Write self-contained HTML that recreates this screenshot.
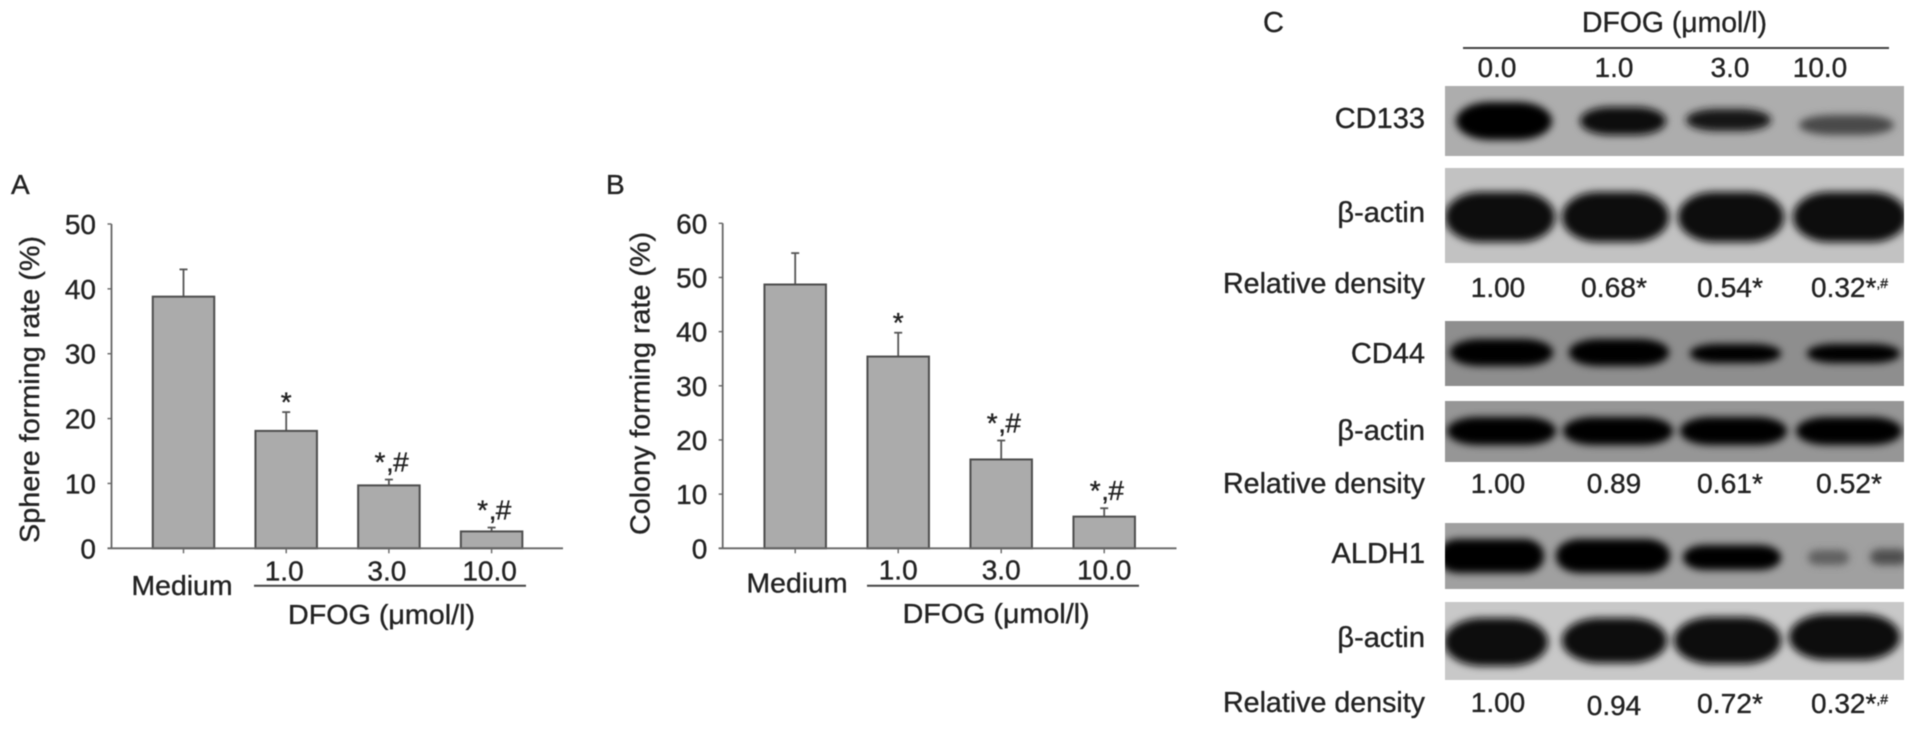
<!DOCTYPE html>
<html lang="en">
<head>
<meta charset="utf-8">
<title>DFOG sphere and colony forming rates with western blots</title>
<style>
html,body{margin:0;padding:0;background:#fff;width:1913px;height:731px;overflow:hidden}
svg{display:block}
text{font-family:"Liberation Sans",sans-serif;fill:#222;stroke:#222;stroke-width:.35px;font-size:28px}
#page-group{filter:blur(0.6px)}
#panel-c text{font-size:29px}
#panel-c text.num{font-size:28px}
</style>
</head>
<body>
<svg id="figure" xmlns="http://www.w3.org/2000/svg" width="1913" height="731" viewBox="0 0 1913 731">
<defs>
<filter id="soft" x="-20%" y="-60%" width="140%" height="220%"><feGaussianBlur stdDeviation="4"/></filter>
<clipPath id="clip-cd133"><rect x="1445" y="86" width="459" height="70"/></clipPath>
<clipPath id="clip-actin1"><rect x="1445" y="168" width="459" height="95"/></clipPath>
<clipPath id="clip-cd44"><rect x="1445" y="321" width="459" height="65"/></clipPath>
<clipPath id="clip-actin2"><rect x="1445" y="401" width="459" height="61"/></clipPath>
<clipPath id="clip-aldh1"><rect x="1445" y="523" width="459" height="66"/></clipPath>
<clipPath id="clip-actin3"><rect x="1445" y="602" width="459" height="78"/></clipPath>
</defs>
<g id="page-group">
<g id="panel-a"></g>
<g id="panel-b"></g>

<g id="panel-c">
<text x="1263" y="32">C</text>
<text x="1582" y="32" textLength="185" lengthAdjust="spacingAndGlyphs">DFOG (μmol/l)</text>
<line x1="1463" y1="48" x2="1889" y2="48" stroke="#444" stroke-width="2"/>
<text class="num" x="1497" y="77" text-anchor="middle">0.0</text>
<text class="num" x="1614" y="77" text-anchor="middle">1.0</text>
<text class="num" x="1730" y="77" text-anchor="middle">3.0</text>
<text class="num" x="1820" y="77" text-anchor="middle">10.0</text>

<g clip-path="url(#clip-cd133)">
<rect x="1445" y="86" width="459" height="70" fill="#adadad"/>
<g filter="url(#soft)">
<rect x="1456" y="102" width="96" height="38" rx="34" ry="19" fill="#000"/>
<rect x="1580" y="107" width="86" height="28" rx="30" ry="14" fill="#0c0c0c"/>
<rect x="1686" y="109" width="85" height="22" rx="30" ry="11" fill="#181818"/>
<rect x="1799" y="115" width="95" height="20" rx="34" ry="10" fill="#4a4a4a"/>
</g></g>
<g clip-path="url(#clip-actin1)">
<rect x="1445" y="168" width="459" height="95" fill="#c2c2c2"/>
<g filter="url(#soft)" fill="#0d0d0d">
<rect x="1445" y="192" width="110" height="50" rx="36" ry="25"/>
<rect x="1562" y="192" width="107" height="50" rx="36" ry="25"/>
<rect x="1678" y="192" width="106" height="50" rx="36" ry="25"/>
<rect x="1793" y="192" width="114" height="50" rx="36" ry="25"/>
</g></g>
<g clip-path="url(#clip-cd44)">
<rect x="1445" y="321" width="459" height="65" fill="#8e8e8e"/>
<g filter="url(#soft)" fill="#050505">
<rect x="1450" y="339" width="103" height="27" rx="30" ry="13"/>
<rect x="1569" y="339" width="100" height="27" rx="30" ry="13"/>
<rect x="1690" y="344" width="91" height="19" rx="28" ry="9"/>
<rect x="1807" y="344" width="93" height="19" rx="28" ry="9"/>
</g></g>
<g clip-path="url(#clip-actin2)">
<rect x="1445" y="401" width="459" height="61" fill="#969696"/>
<g filter="url(#soft)" fill="#000">
<rect x="1447" y="417" width="109" height="28" rx="30" ry="14"/>
<rect x="1563" y="417" width="110" height="28" rx="30" ry="14"/>
<rect x="1680" y="417" width="107" height="28" rx="30" ry="14"/>
<rect x="1796" y="417" width="106" height="28" rx="30" ry="14"/>
</g></g>
<g clip-path="url(#clip-aldh1)">
<rect x="1445" y="523" width="459" height="66" fill="#a0a0a0"/>
<g filter="url(#soft)">
<rect x="1438" y="539" width="106" height="34" rx="20" ry="16" fill="#040404"/>
<rect x="1556" y="539" width="114" height="34" rx="24" ry="16" fill="#040404"/>
<rect x="1683" y="545" width="98" height="25" rx="22" ry="12" fill="#040404"/>
<rect x="1808" y="550" width="41" height="15" rx="10" ry="7" fill="#606060"/>
<rect x="1870" y="549" width="38" height="16" rx="10" ry="8" fill="#505050"/>
</g></g>
<g clip-path="url(#clip-actin3)">
<rect x="1445" y="602" width="459" height="78" fill="#c8c8c8"/>
<g filter="url(#soft)" fill="#080808">
<rect x="1444" y="618" width="104" height="48" rx="38" ry="24"/>
<rect x="1562" y="618" width="105" height="45" rx="38" ry="22"/>
<rect x="1674" y="617" width="107" height="47" rx="38" ry="23"/>
<rect x="1789" y="614" width="111" height="46" rx="38" ry="23"/>
</g></g>

<text x="1425" y="128" text-anchor="end">CD133</text>
<text x="1425" y="222" text-anchor="end">β-actin</text>
<text x="1223" y="293" textLength="202" lengthAdjust="spacingAndGlyphs">Relative density</text>
<text class="num" x="1498" y="297" text-anchor="middle">1.00</text>
<text class="num" x="1581" y="297" textLength="66" lengthAdjust="spacingAndGlyphs">0.68*</text>
<text class="num" x="1697" y="297" textLength="66" lengthAdjust="spacingAndGlyphs">0.54*</text>
<text class="num" x="1811" y="297">0.32*<tspan font-size="14" dy="-9">,#</tspan></text>

<text x="1425" y="363" text-anchor="end">CD44</text>
<text x="1425" y="440" text-anchor="end">β-actin</text>
<text x="1223" y="493" textLength="202" lengthAdjust="spacingAndGlyphs">Relative density</text>
<text class="num" x="1498" y="493" text-anchor="middle">1.00</text>
<text class="num" x="1614" y="493" text-anchor="middle">0.89</text>
<text class="num" x="1697" y="493" textLength="66" lengthAdjust="spacingAndGlyphs">0.61*</text>
<text class="num" x="1816" y="493" textLength="66" lengthAdjust="spacingAndGlyphs">0.52*</text>

<text x="1425" y="563" text-anchor="end">ALDH1</text>
<text x="1425" y="647" text-anchor="end">β-actin</text>
<text x="1223" y="712" textLength="202" lengthAdjust="spacingAndGlyphs">Relative density</text>
<text class="num" x="1498" y="712" text-anchor="middle">1.00</text>
<text class="num" x="1614" y="715" text-anchor="middle">0.94</text>
<text class="num" x="1697" y="713" textLength="66" lengthAdjust="spacingAndGlyphs">0.72*</text>
<text class="num" x="1811" y="713">0.32*<tspan font-size="14" dy="-9">,#</tspan></text>
</g>
</g>
</svg>
<script>
const categories = ['Medium', '1.0', '3.0', '10.0'];
const significance = ['', '*', '*,#', '*,#'];
const sphereValues = [38.8, 18.1, 9.7, 2.6];
const sphereErrorTops = [43.0, 21.0, 10.6, 3.2];
const sphereTicks = [0, 10, 20, 30, 40, 50];
const colonyValues = [48.7, 35.4, 16.4, 5.85];
const colonyErrorTops = [54.5, 39.8, 19.9, 7.4];
const colonyTicks = [0, 10, 20, 30, 40, 50, 60];

const SVG_NS = 'http://www.w3.org/2000/svg';

function shape(parent, tag, attrs) {
  const el = document.createElementNS(SVG_NS, tag);
  for (const k in attrs) el.setAttribute(k, attrs[k]);
  parent.appendChild(el);
  return el;
}

function label(parent, x, y, str, attrs) {
  const el = shape(parent, 'text', Object.assign({ x: x, y: y }, attrs || {}));
  el.textContent = str;
  return el;
}

function drawPanel(cfg) {
  const g = document.getElementById(cfg.id);
  const maxTick = cfg.ticks[cfg.ticks.length - 1];
  const yScale = function (v) { return cfg.y0 - (v / maxTick) * (cfg.y0 - cfg.yTop); };
  const xScale = function (i) { return cfg.x0 + cfg.first + i * cfg.step; };
  const barW = 61.5;

  const letter = label(g, cfg.letterX, 194, cfg.letter);
  
  

  const title = label(g, 0, 0, cfg.title, {
    transform: 'translate(' + cfg.titleX + ',' + cfg.titleBottom + ') rotate(-90)',
    textLength: cfg.titleLen,
    lengthAdjust: 'spacingAndGlyphs',
    'font-size': 29
  });
  
  

  cfg.values.forEach(function (v, i) {
    const cx = xScale(i);
    const err = shape(g, 'line', { x1: cx, x2: cx, y1: yScale(v), y2: yScale(cfg.errors[i]), stroke: '#555', 'stroke-width': 1.8 });
    
    

    const cap = shape(g, 'line', { x1: cx - 4, x2: cx + 4, y1: yScale(cfg.errors[i]), y2: yScale(cfg.errors[i]), stroke: '#555', 'stroke-width': 1.8 });
    
    

    const bar = shape(g, 'rect', { x: cx - barW / 2, y: yScale(v), width: barW, height: cfg.y0 - yScale(v), fill: '#ababab', stroke: '#4d4d4d', 'stroke-width': 2 });
    
    

    const tick = shape(g, 'line', { x1: cx, x2: cx, y1: cfg.y0, y2: cfg.y0 + 5, stroke: '#666', 'stroke-width': 1.4 });
    
    

    const isMedium = i === 0;
    const catLabel = label(g, isMedium ? cfg.mediumX : cx + cfg.labelShift, isMedium ? cfg.mediumY : cfg.doseY, categories[i],
      isMedium ? { 'text-anchor': 'middle', textLength: 101, lengthAdjust: 'spacingAndGlyphs' } : { 'text-anchor': 'middle' });
    
    

    const top = yScale(cfg.errors[i]);
    if (significance[i] === '*') {
      const star = label(g, cx, top - 15.5 + 15, '*', { 'text-anchor': 'middle', 'font-size': 26 });
      
      
    } else if (significance[i]) {
      const star2 = label(g, cx - 9, top - 23 + 15, significance[i].charAt(0), { 'text-anchor': 'middle', 'font-size': 26 });
      
      
      const comma = label(g, cx + 1, top - 8, significance[i].charAt(1), { 'text-anchor': 'middle', 'font-size': 26 });
      
      
      const hash = label(g, cx + 12, top - 8, significance[i].charAt(2), { 'text-anchor': 'middle', 'font-size': 28 });
      
      
    }
  });

  const yAxis = shape(g, 'line', { x1: cfg.x0, x2: cfg.x0, y1: cfg.yTop, y2: cfg.y0, stroke: '#666', 'stroke-width': 1.8 });
  
  

  const xAxis = shape(g, 'line', { x1: cfg.x0 - 4, x2: cfg.xEnd, y1: cfg.y0, y2: cfg.y0, stroke: '#666', 'stroke-width': 1.8 });
  
  

  cfg.ticks.forEach(function (t) {
    const mark = shape(g, 'line', { x1: cfg.x0 - 4, x2: cfg.x0, y1: yScale(t), y2: yScale(t), stroke: '#666', 'stroke-width': 1.4 });
    
    

    const tl = label(g, cfg.tickRight, yScale(t) + 10, String(t), { 'text-anchor': 'end', 'font-size': 27 });
    
    
  });

  const rule = shape(g, 'line', { x1: cfg.ruleX1, x2: cfg.ruleX2, y1: 585.7, y2: 585.7, stroke: '#444', 'stroke-width': 2 });
  
  

  const dose = label(g, cfg.doseTitleX, cfg.doseTitleY, 'DFOG (μmol/l)', { textLength: 187, lengthAdjust: 'spacingAndGlyphs', 'font-size': 29 });
  
  
}

drawPanel({
  id: 'panel-a', letter: 'A', letterX: 11, title: 'Sphere forming rate (%)',
  titleX: 39, titleBottom: 543, titleLen: 307,
  x0: 111.5, xEnd: 563, y0: 548.3, yTop: 224, first: 72, step: 102.7,
  ticks: sphereTicks, values: sphereValues, errors: sphereErrorTops,
  tickRight: 96, mediumX: 182, mediumY: 595, doseY: 580.7, labelShift: -2,
  ruleX1: 254, ruleX2: 526, doseTitleX: 288, doseTitleY: 624
});

drawPanel({
  id: 'panel-b', letter: 'B', letterX: 606, title: 'Colony forming rate (%)',
  titleX: 649.5, titleBottom: 535, titleLen: 303,
  x0: 722.7, xEnd: 1176.5, y0: 548.3, yTop: 223.3, first: 72.5, step: 103,
  ticks: colonyTicks, values: colonyValues, errors: colonyErrorTops,
  tickRight: 707.3, mediumX: 797, mediumY: 592.7, doseY: 579.3, labelShift: 0,
  ruleX1: 867, ruleX2: 1139, doseTitleX: 902.6, doseTitleY: 623
});
</script>
</body>
</html>
